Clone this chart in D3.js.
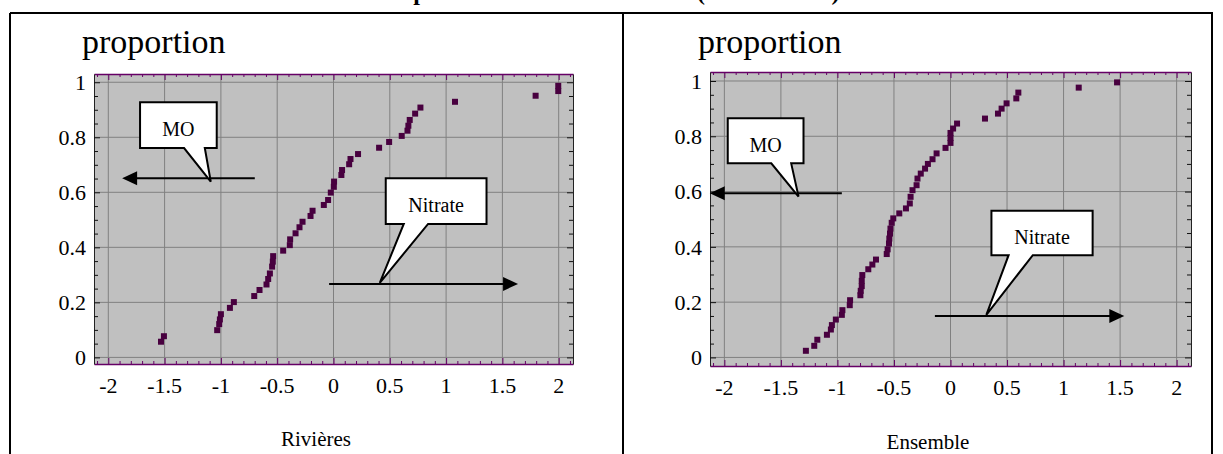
<!DOCTYPE html>
<html>
<head>
<meta charset="utf-8">
<script src="https://cdn.jsdelivr.net/npm/d3@7"></script>
<style>
  body { margin: 0; background: #fff; }
  svg { display: block; }
</style>
</head>
<body>
<div id="chart"></div>
<script>
// tick values and labels
var xTicks = [-2, -1.5, -1, -0.5, 0, 0.5, 1, 1.5, 2];
var xTickLabels = ["-2", "-1.5", "-1", "-0.5", "0", "0.5", "1", "1.5", "2"];
var yTicks = [0, 0.2, 0.4, 0.6, 0.8, 1];
var yTickLabels = ["0", "0.2", "0.4", "0.6", "0.8", "1"];

// Rivières : normal score (x) vs cumulated proportion (y)
var rivieresX = [-1.532, -1.506, -1.033, -1.015, -1.009, -1.0, -0.92, -0.885, -0.704, -0.657,
                 -0.595, -0.58, -0.565, -0.545, -0.539, -0.536, -0.447, -0.388, -0.385, -0.337,
                 -0.302, -0.275, -0.204, -0.186, -0.086, -0.048, -0.024, 0.003, 0.005, 0.07,
                 0.076, 0.139, 0.151, 0.218, 0.405, 0.494, 0.606, 0.657, 0.665, 0.677,
                 0.725, 0.772, 1.079, 1.795, 1.996, 1.996];
var rivieresP = [0.057, 0.077, 0.099, 0.121, 0.138, 0.157, 0.18, 0.201, 0.223, 0.245,
                 0.265, 0.285, 0.305, 0.33, 0.348, 0.368, 0.388, 0.408, 0.429, 0.451,
                 0.473, 0.493, 0.514, 0.533, 0.554, 0.572, 0.599, 0.62, 0.639, 0.663,
                 0.681, 0.702, 0.721, 0.739, 0.762, 0.783, 0.805, 0.824, 0.842, 0.863,
                 0.886, 0.908, 0.929, 0.951, 0.968, 0.987];

// Ensemble
var ensembleX = [-1.279, -1.205, -1.178, -1.093, -1.058, -1.049, -1.014, -0.961, -0.956, -0.891,
                 -0.888, -0.797, -0.794, -0.785, -0.785, -0.78, -0.727, -0.691, -0.659, -0.564,
                 -0.556, -0.544, -0.541, -0.535, -0.531, -0.52, -0.506, -0.453, -0.394, -0.36,
                 -0.353, -0.336, -0.3, -0.292, -0.263, -0.225, -0.2, -0.159, -0.123, -0.044,
                 0, 0, 0, 0.023, 0.058, 0.305, 0.42, 0.452, 0.496, 0.582,
                 0.6, 1.134, 1.473];
var ensembleP = [0.024, 0.042, 0.064, 0.082, 0.101, 0.117, 0.137, 0.154, 0.171, 0.189,
                 0.207, 0.225, 0.241, 0.258, 0.277, 0.298, 0.319, 0.336, 0.354, 0.374,
                 0.391, 0.412, 0.43, 0.448, 0.466, 0.487, 0.503, 0.521, 0.539, 0.557,
                 0.581, 0.605, 0.623, 0.647, 0.665, 0.683, 0.70, 0.717, 0.738, 0.758,
                 0.776, 0.794, 0.812, 0.828, 0.846, 0.864, 0.882, 0.9, 0.919, 0.937,
                 0.958, 0.976, 0.995];

var panelNames = ["Rivières", "Ensemble"];
var calloutLabels = ["MO", "Nitrate"];
var yAxisTitle = "proportion";

var W = 1223, H = 454;
var FONT = "'Liberation Serif', 'Times New Roman', serif";
var PURPLE = "#660066";
var MARK = "#48003f";

var svg = d3.select("#chart")
            .append("svg")
              .attr("width", W)
              .attr("height", H);

// heading, cut off by the top of the picture (only descenders show)
var head = svg.append("text")
    .attr("x", 364)
    .attr("y", 0)
    .attr("font-family", FONT)
    .attr("font-weight", "bold")
    .attr("font-size", "24px")
    .text("Comparaison des distributions ");
head.append("tspan")
    .attr("x", 697)
    .text("(Nitrate–MO)");

// frame of the two panels
svg.append("line").attr("x1", 10).attr("x2", 1213).attr("y1", 13).attr("y2", 13)
    .attr("stroke", "#000").attr("stroke-width", 2);
[10, 623, 1212].forEach(function(xx) {
  svg.append("line").attr("x1", xx).attr("x2", xx).attr("y1", 13).attr("y2", H)
      .attr("stroke", "#000").attr("stroke-width", 2);
});

function drawPanel(cfg) {
  var x = d3.scaleLinear().domain([-2.127, 2.127]).range([cfg.left, cfg.right]);
  var y = d3.scaleLinear().domain(cfg.yDomain).range([cfg.bottom, cfg.top]);
  var g = svg.append("g");

  g.append("rect")
      .attr("x", cfg.left)
      .attr("y", cfg.top)
      .attr("width", cfg.right - cfg.left)
      .attr("height", cfg.bottom - cfg.top)
      .attr("fill", "#c0c0c0");

  // grid
  g.selectAll(null).data(xTicks).enter().append("line")
      .attr("x1", function(d) { return x(d); })
      .attr("x2", function(d) { return x(d); })
      .attr("y1", cfg.top).attr("y2", cfg.bottom)
      .attr("stroke", "#808080").attr("stroke-width", 1);
  g.selectAll(null).data(yTicks).enter().append("line")
      .attr("y1", function(d) { return y(d); })
      .attr("y2", function(d) { return y(d); })
      .attr("x1", cfg.left).attr("x2", cfg.right)
      .attr("stroke", "#808080").attr("stroke-width", 1);

  // minor / major ticks on the four edges (pointing inside)
  var xMinor = d3.range(-21, 22).map(function(i) { return i / 10; });
  var yMinor = d3.range(0, 21).map(function(i) { return i / 20; });
  function isMajor(v, step) { return Math.abs(v / step - Math.round(v / step)) < 1e-6; }

  var top = g.append("g")
      .attr("transform", "translate(0," + cfg.top + ")")
      .call(d3.axisBottom(x).tickValues(xMinor).tickSize(3).tickSizeOuter(0).tickFormat(""));
  var bot = g.append("g")
      .attr("transform", "translate(0," + cfg.bottom + ")")
      .call(d3.axisTop(x).tickValues(xMinor).tickSize(3).tickSizeOuter(0).tickFormat(""));
  [top, bot].forEach(function(a) {
    a.select(".domain").attr("stroke", PURPLE).attr("stroke-width", 1.5);
    a.selectAll(".tick line").attr("stroke", PURPLE)
      .attr("y2", function(d) {
        var s = isMajor(d, 0.5) ? 6 : 3;
        return a === top ? s : -s;
      });
  });

  var lft = g.append("g")
      .attr("transform", "translate(" + cfg.left + ",0)")
      .call(d3.axisRight(y).tickValues(yMinor).tickSize(4).tickSizeOuter(0).tickFormat(""));
  var rgt = g.append("g")
      .attr("transform", "translate(" + cfg.right + ",0)")
      .call(d3.axisLeft(y).tickValues(yMinor).tickSize(4).tickSizeOuter(0).tickFormat(""));
  [lft, rgt].forEach(function(a) {
    a.select(".domain").attr("stroke", "#222").attr("stroke-width", 1);
    a.selectAll(".tick line").attr("stroke", "#111")
      .attr("x2", function(d) {
        var s = isMajor(d, 0.2) ? 6 : 4;
        return a === lft ? s : -s;
      });
  });

  // tick labels
  g.selectAll(null).data(xTicks).enter().append("text")
      .attr("x", function(d) { return x(d); })
      .attr("y", cfg.bottom + 29)
      .attr("text-anchor", "middle")
      .attr("font-family", FONT)
      .attr("font-size", "22px")
      .text(function(d, i) { return xTickLabels[i]; });
  g.selectAll(null).data(yTicks).enter().append("text")
      .attr("x", cfg.left - 8)
      .attr("y", function(d) { return y(d); })
      .attr("dy", "0.35em")
      .attr("text-anchor", "end")
      .attr("font-family", FONT)
      .attr("font-size", "22px")
      .text(function(d, i) { return yTickLabels[i]; });

  // titles
  g.append("text")
      .attr("x", cfg.left - 12)
      .attr("y", 53)
      .attr("font-family", FONT)
      .attr("font-size", "34px")
      .text(yAxisTitle);
  g.append("text")
      .attr("x", cfg.nameX)
      .attr("y", cfg.nameY)
      .attr("text-anchor", "middle")
      .attr("font-family", FONT)
      .attr("font-size", "21px")
      .text(cfg.name);

  // points
  var pts = cfg.xs.map(function(v, i) { return {x: v, y: cfg.ps[i]}; });
  g.selectAll(null).data(pts).enter().append("rect")
      .attr("x", function(d) { return x(d.x) - 3; })
      .attr("y", function(d) { return y(d.y) - 3; })
      .attr("width", 6)
      .attr("height", 6)
      .attr("fill", MARK);

  // callouts + arrows
  cfg.callouts.forEach(function(c) {
    var ay = y(c.arrowY);
    var x0 = x(c.arrowFrom), x1 = x(c.arrowTo);
    var dir = x1 > x0 ? 1 : -1;
    g.append("line")
        .attr("x1", x0).attr("x2", x1 - dir * 12)
        .attr("y1", ay).attr("y2", ay)
        .attr("stroke", "#000").attr("stroke-width", 2);
    g.append("path")
        .attr("d", "M" + x1 + "," + ay + "L" + (x1 - dir * 15) + "," + (ay - 7) +
                   "L" + (x1 - dir * 15) + "," + (ay + 7) + "Z")
        .attr("fill", "#000");

    var bx0 = x(c.box[0]), bx1 = x(c.box[1]), by0 = y(c.box[2]), by1 = y(c.box[3]);
    var path = d3.path();
    path.moveTo(bx0, by0);
    path.lineTo(bx1, by0);
    path.lineTo(bx1, by1);
    path.lineTo(x(c.tail[1]), by1);
    path.lineTo(x(c.tip[0]), y(c.tip[1]));
    path.lineTo(x(c.tail[0]), by1);
    path.lineTo(bx0, by1);
    path.closePath();
    g.append("path")
        .attr("d", path.toString())
        .attr("fill", "#fff")
        .attr("stroke", "#000")
        .attr("stroke-width", 2)
        .attr("stroke-linejoin", "miter");
    g.append("text")
        .attr("x", (bx0 + bx1) / 2)
        .attr("y", (by0 + by1) / 2)
        .attr("dy", "0.55em")
        .attr("text-anchor", "middle")
        .attr("font-family", FONT)
        .attr("font-size", "20px")
        .text(c.label);
  });
}

drawPanel({
  left: 94, right: 573, top: 74, bottom: 364, yDomain: [-0.024, 1.03],
  name: panelNames[0], nameX: 316, nameY: 446, xs: rivieresX, ps: rivieresP,
  callouts: [
    {label: calloutLabels[0], box: [-1.718, -1.037, 0.927, 0.761], tail: [-1.327, -1.143],
     tip: [-1.09, 0.639], arrowY: 0.651, arrowFrom: -0.699, arrowTo: -1.877},
    {label: calloutLabels[1], box: [0.464, 1.359, 0.651, 0.485], tail: [0.624, 0.84],
     tip: [0.411, 0.271], arrowY: 0.267, arrowFrom: -0.039, arrowTo: 1.639}
  ]
});

drawPanel({
  left: 710, right: 1191, top: 72, bottom: 366, yDomain: [-0.031, 1.0325],
  name: panelNames[1], nameX: 928, nameY: 449, xs: ensembleX, ps: ensembleP,
  callouts: [
    {label: calloutLabels[0], box: [-1.97, -1.3, 0.865, 0.702], tail: [-1.585, -1.409],
     tip: [-1.344, 0.582], arrowY: 0.594, arrowFrom: -0.961, arrowTo: -2.129},
    {label: calloutLabels[1], box: [0.362, 1.257, 0.531, 0.37], tail: [0.514, 0.728],
     tip: [0.317, 0.154], arrowY: 0.15, arrowFrom: -0.138, arrowTo: 1.537}
  ]
});
</script>
</body>
</html>
